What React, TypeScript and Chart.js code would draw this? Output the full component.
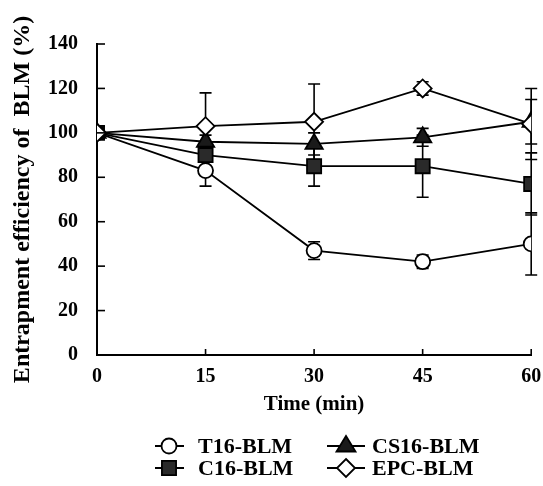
import React, { useEffect, useRef } from "react";
import { Chart, registerables } from "chart.js";

Chart.register(...registerables);

const times = [0, 15, 30, 45, 60];
const t16 = [100, 83, 47, 42, 50];
const t16Err = [0, 7, 4, 3, 14];
const c16 = [100, 90, 85, 85, 77];
const c16Err = [0, 3, 9, 14, 14];
const cs16 = [100, 96, 95, 98, 105];
const cs16Err = [0, 3, 5, 4, 10];
const epc = [100, 103, 105, 120, 104];
const epcErr = [0, 15, 17, 3, 16];
const yTicks = [0, 20, 40, 60, 80, 100, 120, 140];
const seriesNames = ["T16-BLM", "C16-BLM", "CS16-BLM", "EPC-BLM"];

const FONT = '"Liberation Serif", "Times New Roman", serif';

function drawMarker(ctx: CanvasRenderingContext2D, style: string, x: number, y: number, r: number, fill: string) {
  ctx.save();
  ctx.fillStyle = fill;
  ctx.strokeStyle = "#000";
  ctx.lineWidth = 1.8;
  ctx.beginPath();
  if (style === "circle") {
    ctx.arc(x, y, r, 0, Math.PI * 2);
  } else if (style === "rect") {
    const s = Math.SQRT1_2 * r;
    ctx.rect(x - s, y - s, 2 * s, 2 * s);
  } else if (style === "triangle") {
    ctx.moveTo(x, y - r);
    ctx.lineTo(x + r * 0.95, y + r * 0.55);
    ctx.lineTo(x - r * 0.95, y + r * 0.55);
    ctx.closePath();
  } else {
    ctx.moveTo(x, y - r);
    ctx.lineTo(x + r, y);
    ctx.lineTo(x, y + r);
    ctx.lineTo(x - r, y);
    ctx.closePath();
  }
  ctx.fill();
  ctx.stroke();
  ctx.restore();
}

export default function App() {
  const ref = useRef<HTMLCanvasElement | null>(null);

  useEffect(() => {
    if (!ref.current) return;
    const errs = [t16Err, c16Err, cs16Err, epcErr];
    const vals = [t16, c16, cs16, epc];

    const errorBars = {
      id: "errorBars",
      beforeDatasetsDraw(chart: any) {
        const { ctx, scales } = chart;
        const xs = scales.x, ys = scales.y;
        ctx.save();
        ctx.strokeStyle = "#000";
        ctx.lineWidth = 1.6;
        vals.forEach((arr, si) => {
          arr.forEach((v, i) => {
            const e = errs[si][i];
            if (!e) return;
            const px = xs.getPixelForValue(times[i]);
            const top = ys.getPixelForValue(v + e);
            const bot = ys.getPixelForValue(v - e);
            ctx.beginPath();
            ctx.moveTo(px, top);
            ctx.lineTo(px, bot);
            ctx.moveTo(px - 6, top);
            ctx.lineTo(px + 6, top);
            ctx.moveTo(px - 6, bot);
            ctx.lineTo(px + 6, bot);
            ctx.stroke();
          });
        });
        ctx.restore();
      },
      afterDraw(chart: any) {
        const { ctx, scales } = chart;
        const xs = scales.x, ys = scales.y;
        ctx.save();
        ctx.strokeStyle = "#000";
        ctx.lineWidth = 1.6;
        const ax = xs.getPixelForValue(0);
        yTicks.forEach((t) => {
          if (t === 0) return;
          const py = ys.getPixelForValue(t);
          ctx.beginPath();
          ctx.moveTo(ax, py);
          ctx.lineTo(ax + 8, py);
          ctx.stroke();
        });
        const by = ys.getPixelForValue(0);
        times.forEach((t) => {
          if (t === 0) return;
          const px = xs.getPixelForValue(t);
          ctx.beginPath();
          ctx.moveTo(px, by);
          ctx.lineTo(px, by - 6);
          ctx.stroke();
        });
        // legend
        const items = [
          { style: "circle", fill: "#fff", r: 7.5, lx1: 155, lx2: 184, mx: 169, tx: 198, y: 446 },
          { style: "triangle", fill: "#1a1a1a", r: 10, lx1: 327, lx2: 365, mx: 346, tx: 372, y: 446 },
          { style: "rect", fill: "#2a2a2a", r: 10, lx1: 155, lx2: 184, mx: 169, tx: 198, y: 468 },
          { style: "rectRot", fill: "#fff", r: 9, lx1: 327, lx2: 365, mx: 346, tx: 372, y: 468 },
        ];
        const names = [seriesNames[0], seriesNames[2], seriesNames[1], seriesNames[3]];
        items.forEach((it, i) => {
          ctx.beginPath();
          ctx.lineWidth = 2;
          ctx.moveTo(it.lx1, it.y);
          ctx.lineTo(it.lx2, it.y);
          ctx.stroke();
          drawMarker(ctx, it.style, it.mx, it.y, it.r, it.fill);
          ctx.fillStyle = "#000";
          ctx.font = `bold 22px ${FONT}`;
          ctx.textAlign = "left";
          ctx.textBaseline = "middle";
          ctx.fillText(names[i], it.tx, it.y + 1);
        });
        ctx.restore();
      },
    };

    const mk = (label: string, data: number[], style: string, fill: string, r: number, order: number) => ({
      label,
      data: times.map((t, i) => ({ x: t, y: data[i] })),
      borderColor: "#000",
      borderWidth: 1.8,
      pointStyle: style,
      pointRadius: r,
      pointBackgroundColor: fill,
      pointBorderColor: "#000",
      pointBorderWidth: 1.8,
      order,
      tension: 0,
    });

    const chart = new Chart(ref.current, {
      type: "line",
      data: {
        datasets: [
          mk(seriesNames[0], t16, "circle", "#fff", 7.5, 2),
          mk(seriesNames[1], c16, "rect", "#2a2a2a", 10, 4),
          mk(seriesNames[2], cs16, "triangle", "#1a1a1a", 10, 3),
          mk(seriesNames[3], epc, "rectRot", "#fff", 9, 1),
        ] as any,
      },
      options: {
        animation: false,
        responsive: false,
        events: [],
        layout: { padding: { top: 44, right: 11, left: 0, bottom: 0 } },
        plugins: { legend: { display: false }, tooltip: { enabled: false } },
        scales: {
          x: {
            type: "linear",
            min: 0,
            max: 60,
            afterBuildTicks: (s: any) => { s.ticks = times.map((v) => ({ value: v })); },
            afterFit: (s: any) => { s.height = 131; s.paddingRight = 0; s.paddingLeft = 0; },
            grid: { display: false, drawTicks: false },
            border: { display: true, color: "#000", width: 2 },
            ticks: { color: "#000", padding: 10, font: { family: FONT, size: 20, weight: "bold" } },
            title: {
              display: true,
              text: "Time (min)",
              color: "#000",
              font: { family: FONT, size: 21, weight: "bold" },
              padding: { top: 0, bottom: 69 },
            },
          },
          y: {
            min: 0,
            max: 140,
            afterBuildTicks: (s: any) => { s.ticks = yTicks.map((v) => ({ value: v })); },
            afterFit: (s: any) => { s.width = 97; s.paddingTop = 0; s.paddingBottom = 0; },
            grid: { display: false, drawTicks: false },
            border: { display: true, color: "#000", width: 2 },
            ticks: { color: "#000", padding: 19, font: { family: FONT, size: 20, weight: "bold" } },
            title: {
              display: true,
              text: "Entrapment efficiency of  BLM (%)",
              color: "#000",
              font: { family: FONT, size: 24, weight: "bold" },
              padding: { top: 8, bottom: 0 },
            },
          },
        },
      },
      plugins: [errorBars],
    } as any);
    return () => chart.destroy();
  }, []);

  return (
    <div style={{ position: "fixed", left: 0, top: 0, width: 543, height: 486, background: "#fff" }}>
      <canvas ref={ref} width={543} height={486} style={{ width: 543, height: 486, display: "block" }} />
    </div>
  );
}
